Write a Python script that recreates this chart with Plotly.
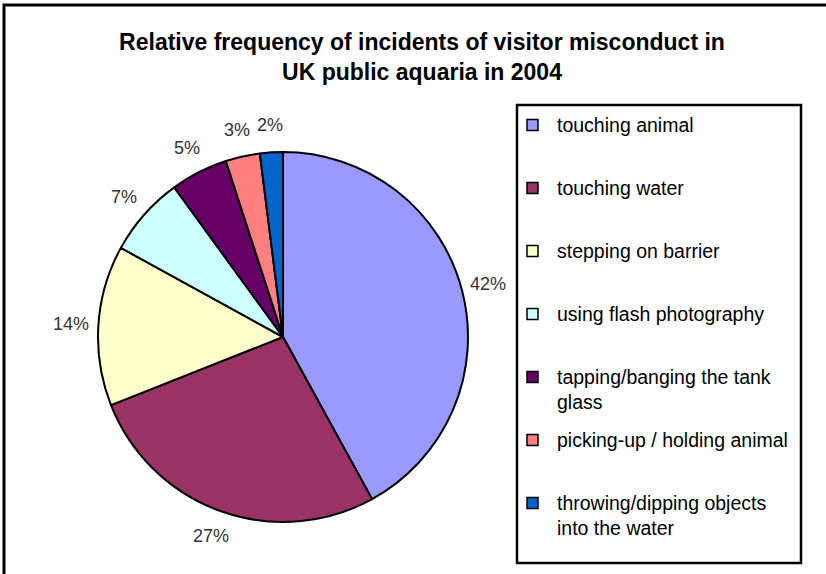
import numpy as np
import plotly.graph_objects as go

# Incident categories and their share of all recorded misconduct (%)
categories = [
    "touching animal",
    "touching water",
    "stepping on barrier",
    "using flash photography",
    "tapping/banging the tank glass",
    "picking-up / holding animal",
    "throwing/dipping objects into the water",
]
# Legend text, wrapped as in the printed report
legend_labels = [
    "touching animal",
    "touching water",
    "stepping on barrier",
    "using flash photography",
    "tapping/banging the tank<br>glass",
    "picking-up / holding animal",
    "throwing/dipping objects<br>into the water",
]
shares = [42, 27, 14, 7, 5, 3, 2]
colors = ["#9999FF", "#993366", "#FFFFCC", "#CCFFFF", "#660066", "#FF8080", "#0066CC"]

title_text = ("<b>Relative frequency of incidents of visitor misconduct in"
              "<br>UK public aquaria in 2004</b>")

W, H = 826, 574
FONT = "Liberation Sans, Arial, sans-serif"


def px(x):
    return x / W


def py(y):
    return 1 - y / H


# Pie geometry (pixels)
cx, cy, R = 283, 337, 185
label_r = 212

fig = go.Figure()
fig.add_trace(go.Pie(
    labels=categories,
    values=shares,
    sort=False,
    direction="clockwise",
    rotation=0,
    marker=dict(colors=colors, line=dict(color="black", width=2)),
    textinfo="none",
    hoverinfo="label+percent",
    showlegend=False,
    domain=dict(x=[px(cx - R), px(cx + R)], y=[py(cy + R), py(cy - R)]),
))

annotations = []
# Percentage labels placed around the pie at each slice's mid-angle
vals = np.array(shares, dtype=float)
pct = vals / vals.sum() * 100
mid = (np.cumsum(vals) - vals / 2) / vals.sum() * 2 * np.pi
for p, a in zip(pct, mid):
    annotations.append(dict(
        x=px(cx + label_r * np.sin(a)), y=py(cy - label_r * np.cos(a)),
        xref="paper", yref="paper", showarrow=False,
        text=f"{p:.0f}%", font=dict(family=FONT, size=18, color="#333333"),
        xanchor="center", yanchor="middle",
    ))

# Legend box with one swatch and label per category
shapes = []
lg_left, lg_top, lg_right, lg_bottom = 517, 105, 801, 563
shapes.append(dict(type="rect", xref="paper", yref="paper",
                   x0=px(lg_left), x1=px(lg_right), y0=py(lg_bottom), y1=py(lg_top),
                   line=dict(color="black", width=2.5), fillcolor="white", layer="below"))
slot = 63
first = 125
for i, (lab, col) in enumerate(zip(legend_labels, colors)):
    yc = first + i * slot
    shapes.append(dict(type="rect", xref="paper", yref="paper",
                       x0=px(527), x1=px(538), y0=py(yc + 5.5), y1=py(yc - 5.5),
                       line=dict(color="black", width=1.5), fillcolor=col))
    annotations.append(dict(
        x=px(555), y=py(yc - 13), xref="paper", yref="paper", showarrow=False,
        text=lab, align="left", xanchor="left", yanchor="top",
        font=dict(family=FONT, size=19.5, color="black"),
    ))

# Outer frame of the chart area
shapes.append(dict(type="rect", xref="paper", yref="paper",
                   x0=px(4), x1=px(W + 10), y0=py(H + 10), y1=py(5),
                   line=dict(color="black", width=3)))

fig.update_layout(
    width=W, height=H, autosize=False,
    margin=dict(l=0, r=0, t=0, b=0),
    paper_bgcolor="white", plot_bgcolor="white",
    title=dict(text=title_text, x=px(422), xanchor="center",
               y=py(50), yanchor="top",
               font=dict(family=FONT, size=23, color="black")),
    shapes=shapes,
    annotations=annotations,
)

fig.write_html("out.html")
